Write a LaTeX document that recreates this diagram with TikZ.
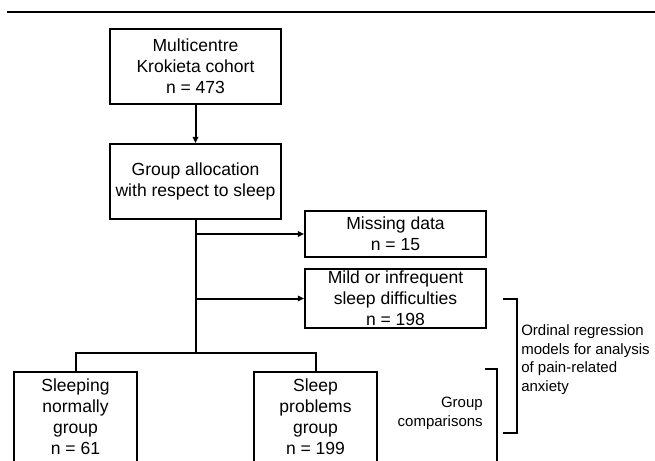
\documentclass[tikz,border=0pt]{standalone}
\usepackage{fontspec}
\setmainfont{Liberation Sans}
\usetikzlibrary{arrows.meta}
\begin{document}
\begin{tikzpicture}[x=0.75pt,y=-0.75pt,
  box/.style={draw, line width=1.6pt, inner sep=0pt, align=center, font=\fontsize{13.15}{15.75}\selectfont},
  conn/.style={line width=1.5pt},
  arr/.style={conn, -{Triangle[length=4.5pt,width=4pt]}},
  bracketline/.style={line width=1.6pt},
  lab/.style={inner sep=0pt, font=\fontsize{11.25}{13.9}\selectfont}]
\path[use as bounding box] (0,0) rectangle (655,460);
\clip (0,0) rectangle (655,460);
% top rule
\coordinate (r1) at (7,12);
\coordinate (r2) at (656,12);
\draw[line width=2.2pt] (r1) -- (r2);
% boxes
\node[box, minimum width=128.25pt, minimum height=56.25pt] (cohort) at (195.5,66.5) {Multicentre\\Krokieta cohort\\n = 473};
\node[box, minimum width=128.25pt, minimum height=56.25pt] (alloc) at (195.5,181.5) {Group allocation\\with respect to sleep};
\node[box, minimum width=135.75pt, minimum height=34.5pt] (missing) at (395.5,234) {Missing data\\n = 15};
\node[box, minimum width=135.75pt, minimum height=44.25pt] (mild) at (395.5,298.5) {Mild or infrequent\\sleep difficulties\\n = 198};
\node[box, minimum width=92.25pt, minimum height=67.5pt] (normal) at (75.5,417) {Sleeping\\normally\\group\\n = 61};
\node[box, minimum width=92.25pt, minimum height=67.5pt] (problems) at (315.5,417) {Sleep\\problems\\group\\n = 199};
% connectors
\coordinate (split) at (195.5,353);
\draw[arr] (cohort.south) -- (alloc.north);
\draw[conn] (alloc.south) -- (split);
\draw[conn] (split) -| (normal.north);
\draw[conn] (split) -| (problems.north);
\draw[arr] (alloc.south |- missing.west) -- (missing.west);
\draw[arr] (alloc.south |- mild.west) -- (mild.west);
% brackets
\coordinate (o1) at (503,299);
\coordinate (o2) at (517,299);
\coordinate (o3) at (517,433);
\coordinate (o4) at (503,433);
\draw[bracketline] (o1) -- (o2) -- (o3) -- (o4);
\coordinate (g1) at (485,369);
\coordinate (g2) at (497,369);
\coordinate (g3) at (497,470);
\draw[bracketline] (g1) -- (g2) -- (g3);
% labels
\node[lab, anchor=west, align=left] (ordinal) at (521,359.5) {Ordinal regression\\models for analysis\\of pain-related\\anxiety};
\node[lab, anchor=east, align=right] (groupcomp) at (483,413.5) {Group\\comparisons};
\end{tikzpicture}
\end{document}
